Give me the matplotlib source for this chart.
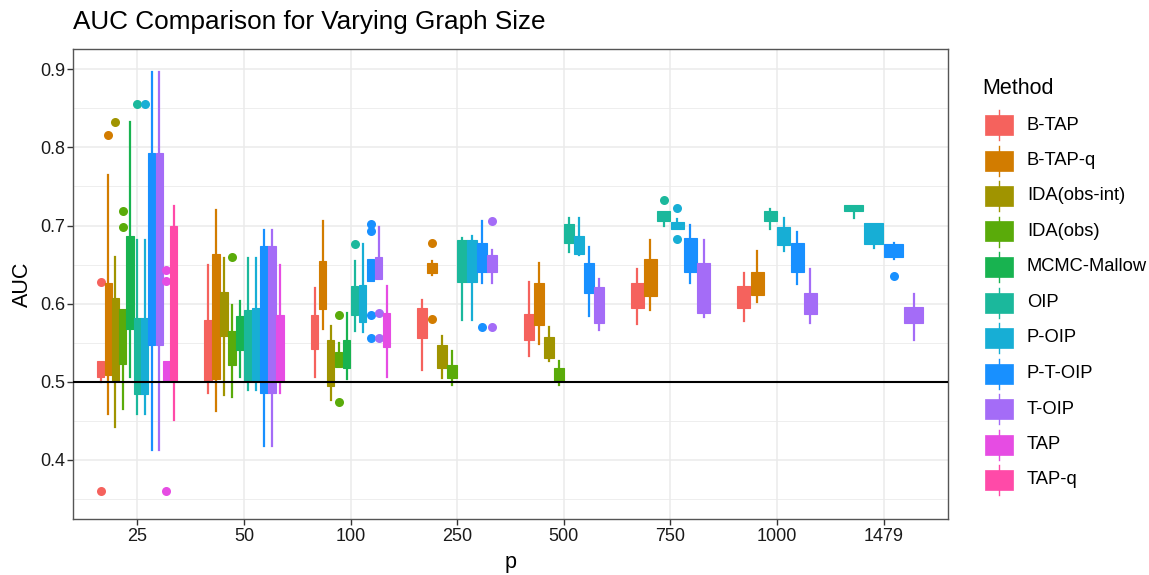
import matplotlib
matplotlib.use("Agg")
import matplotlib.pyplot as plt
from matplotlib.patches import Rectangle
from matplotlib.lines import Line2D

plt.rcParams['font.family'] = ['Liberation Sans', 'DejaVu Sans']

# method names and colours (ggplot hue palette as seen in the picture)
methods = ['B-TAP', 'B-TAP-q', 'IDA(obs-int)', 'IDA(obs)', 'MCMC-Mallow', 'OIP',
           'P-OIP', 'P-T-OIP', 'T-OIP', 'TAP', 'TAP-q']
colors = ['#F5625D', '#D27C00', '#A09400', '#5AAB0A', '#18B350', '#1BB89C',
          '#17AED5', '#1890FF', '#A46CF7', '#E64CE3', '#FF4AA8']

groups = ['25', '50', '100', '250', '500', '750', '1000', '1479']

# (method, whisker low, q1, q3, whisker high, outliers)
p25 = [
    ('B-TAP', 0.500, 0.506, 0.527, 0.527, [0.628, 0.360]),
    ('B-TAP-q', 0.459, 0.509, 0.627, 0.765, [0.816]),
    ('IDA(obs-int)', 0.442, 0.501, 0.607, 0.660, [0.832]),
    ('IDA(obs)', 0.465, 0.523, 0.593, 0.593, [0.718, 0.698]),
    ('MCMC-Mallow', 0.506, 0.567, 0.686, 0.832, []),
    ('OIP', 0.459, 0.484, 0.581, 0.681, [0.856]),
    ('P-OIP', 0.459, 0.484, 0.581, 0.681, [0.856]),
    ('P-T-OIP', 0.413, 0.547, 0.793, 0.896, []),
    ('T-OIP', 0.413, 0.547, 0.793, 0.896, []),
    ('TAP', 0.501, 0.501, 0.527, 0.527, [0.643, 0.629, 0.360]),
    ('TAP-q', 0.451, 0.501, 0.699, 0.725, []),
]
p50 = [
    ('B-TAP', 0.486, 0.501, 0.579, 0.649, []),
    ('B-TAP-q', 0.462, 0.504, 0.663, 0.720, []),
    ('IDA(obs-int)', 0.483, 0.559, 0.615, 0.658, []),
    ('IDA(obs)', 0.480, 0.522, 0.565, 0.598, [0.660]),
    ('MCMC-Mallow', 0.506, 0.540, 0.584, 0.603, []),
    ('OIP', 0.489, 0.501, 0.592, 0.658, []),
    ('P-OIP', 0.489, 0.501, 0.595, 0.658, []),
    ('P-T-OIP', 0.418, 0.485, 0.674, 0.694, []),
    ('T-OIP', 0.418, 0.485, 0.674, 0.694, []),
    ('TAP', 0.486, 0.501, 0.585, 0.649, []),
]
p100 = [
    ('B-TAP', 0.506, 0.542, 0.586, 0.620, []),
    ('B-TAP-q', 0.568, 0.593, 0.654, 0.706, []),
    ('IDA(obs-int)', 0.477, 0.495, 0.554, 0.571, []),
    ('IDA(obs)', 0.519, 0.519, 0.538, 0.550, [0.585, 0.474]),
    ('MCMC-Mallow', 0.503, 0.518, 0.553, 0.588, []),
    ('OIP', 0.565, 0.586, 0.623, 0.655, [0.676]),
    ('P-OIP', 0.564, 0.577, 0.624, 0.676, []),
    ('P-T-OIP', 0.629, 0.629, 0.657, 0.657, [0.702, 0.693, 0.586, 0.556]),
    ('T-OIP', 0.631, 0.631, 0.660, 0.698, [0.588, 0.556]),
    ('TAP', 0.506, 0.544, 0.588, 0.622, []),
]
p250 = [
    ('B-TAP', 0.515, 0.556, 0.595, 0.605, []),
    ('B-TAP-q', 0.637, 0.639, 0.652, 0.654, [0.678, 0.580]),
    ('IDA(obs-int)', 0.505, 0.517, 0.547, 0.558, []),
    ('IDA(obs)', 0.496, 0.505, 0.522, 0.539, []),
    ('OIP', 0.579, 0.628, 0.682, 0.684, []),
    ('P-OIP', 0.579, 0.628, 0.681, 0.686, []),
    ('P-T-OIP', 0.626, 0.640, 0.677, 0.706, [0.570]),
    ('T-OIP', 0.626, 0.640, 0.662, 0.669, [0.706, 0.570]),
]
p500 = [
    ('B-TAP', 0.533, 0.553, 0.587, 0.628, []),
    ('B-TAP-q', 0.548, 0.573, 0.626, 0.652, []),
    ('IDA(obs-int)', 0.527, 0.530, 0.557, 0.570, []),
    ('IDA(obs)', 0.496, 0.501, 0.518, 0.526, []),
    ('OIP', 0.666, 0.677, 0.702, 0.710, []),
    ('P-OIP', 0.662, 0.663, 0.686, 0.709, []),
    ('P-T-OIP', 0.584, 0.613, 0.652, 0.672, []),
    ('T-OIP', 0.566, 0.575, 0.621, 0.632, []),
]
p750 = [
    ('B-TAP', 0.574, 0.594, 0.627, 0.644, []),
    ('B-TAP-q', 0.592, 0.610, 0.657, 0.681, []),
    ('OIP', 0.699, 0.706, 0.718, 0.718, [0.733]),
    ('P-OIP', 0.695, 0.695, 0.705, 0.708, [0.723, 0.683]),
    ('P-T-OIP', 0.626, 0.640, 0.684, 0.701, []),
    ('T-OIP', 0.583, 0.588, 0.652, 0.681, []),
]
p1000 = [
    ('B-TAP', 0.578, 0.594, 0.622, 0.639, []),
    ('B-TAP-q', 0.602, 0.611, 0.640, 0.667, []),
    ('OIP', 0.695, 0.706, 0.719, 0.721, []),
    ('P-OIP', 0.667, 0.675, 0.698, 0.710, []),
    ('P-T-OIP', 0.625, 0.640, 0.678, 0.692, []),
    ('T-OIP', 0.575, 0.587, 0.613, 0.644, []),
]
p1479 = [
    ('OIP', 0.709, 0.718, 0.726, 0.726, []),
    ('P-OIP', 0.671, 0.676, 0.703, 0.703, []),
    ('P-T-OIP', 0.657, 0.660, 0.676, 0.678, [0.635]),
    ('T-OIP', 0.553, 0.575, 0.596, 0.612, []),
]
group_data = [p25, p50, p100, p250, p500, p750, p1000, p1479]

W, H = 1149, 575
fig = plt.figure(figsize=(W / 100, H / 100), dpi=100)
ax = fig.add_axes([73.3 / W, 1 - 519.3 / H, (947.7 - 73.3) / W, (519.3 - 48.8) / H])

dodge = 0.75
for gi, rows in enumerate(group_data):
    n = len(rows)
    bw = dodge / n
    for j, (m, lo, q1, q3, hi, out) in enumerate(rows):
        c = colors[methods.index(m)]
        pos = gi - dodge / 2 + (j + 0.5) * bw
        st = dict(med=q1, q1=q1, q3=q3, whislo=lo, whishi=hi, fliers=out)
        ax.bxp([st], positions=[pos], widths=bw * 0.97, patch_artist=True,
               showcaps=False, manage_ticks=False,
               boxprops=dict(facecolor=c, edgecolor=c, linewidth=0.8),
               whiskerprops=dict(color=c, linewidth=1.6),
               medianprops=dict(visible=False),
               flierprops=dict(marker='o', markerfacecolor=c, markeredgecolor='none',
                               markersize=6.5))

ax.axhline(0.5, color='black', linewidth=1.5, zorder=5)

ax.set_xlim(-0.6, len(groups) - 0.4)
ax.set_ylim(0.3238, 0.9263)
ax.set_xticks(range(len(groups)))
ax.set_xticklabels(groups)
ax.set_yticks([0.4, 0.5, 0.6, 0.7, 0.8, 0.9])
ax.set_yticks([0.35, 0.45, 0.55, 0.65, 0.75, 0.85], minor=True)
ax.grid(which='major', color='#EBEBEB', linewidth=1.1)
ax.grid(which='minor', axis='y', color='#EBEBEB', linewidth=0.6)
ax.set_axisbelow(True)
ax.tick_params(which='major', length=4, width=1, color='#333333', labelsize=13,
               labelcolor='#1a1a1a', pad=2)
ax.tick_params(which='minor', length=0)
for s in ax.spines.values():
    s.set_color('#555555')
    s.set_linewidth(1.0)

ax.set_xlabel('p', fontsize=15.5, labelpad=5)
ax.set_ylabel('AUC', fontsize=15.5, labelpad=5)
fig.text(73 / W, 1 - 22 / H, 'AUC Comparison for Varying Graph Size', fontsize=18.8,
         ha='left', va='center')

# legend drawn at the right
fig.text(982 / W, 1 - 88 / H, 'Method', fontsize=15.5, ha='left', va='center')
for i, (m, c) in enumerate(zip(methods, colors)):
    yc = 125 + i * 35.5
    fig.add_artist(Line2D([999 / W, 999 / W], [1 - (yc - 15) / H, 1 - (yc + 15) / H],
                          color=c, linewidth=1.0, transform=fig.transFigure))
    fig.add_artist(Rectangle((985 / W, 1 - (yc + 10) / H), 28 / W, 20 / H,
                             facecolor=c, edgecolor=c, linewidth=0.5,
                             transform=fig.transFigure))
    fig.text(1027 / W, 1 - yc / H, m, fontsize=13.2, ha='left', va='center')

fig.savefig('out.png', dpi=100)
